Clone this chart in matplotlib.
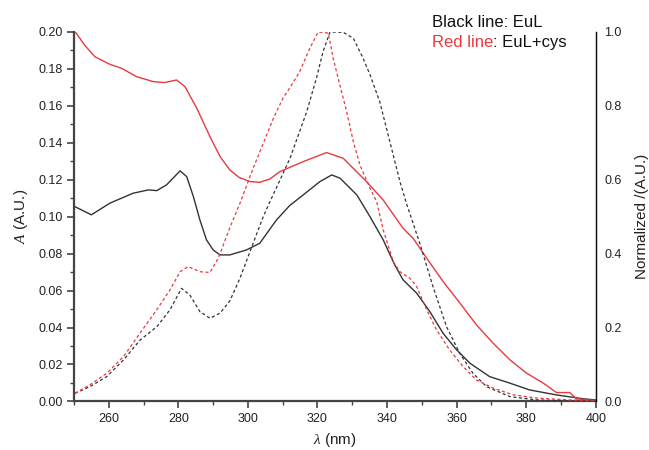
import numpy as np
import matplotlib
matplotlib.use("Agg")
import matplotlib.pyplot as plt
from matplotlib.ticker import MultipleLocator, FormatStrFormatter

plt.rcParams['font.family'] = ['Liberation Sans', 'DejaVu Sans']
plt.rcParams['mathtext.fontset'] = 'custom'
plt.rcParams['mathtext.it'] = 'Liberation Serif:italic'

# absorbance, EuL (black solid)
wl_eul = [250.3, 255, 260.3, 267, 271.4, 273.8, 276.6, 280.5, 282.4, 284.3, 286.2, 288.1, 290, 292,
          294.8, 299.6, 303.4, 308.2, 312, 315.9, 320.7, 324.1, 326.5, 331.3, 335.1, 338.9, 342.2,
          344.6, 348.5, 352.3, 356.1, 360, 363.8, 369.5, 375.3, 381, 388.7, 396.4, 400]
abs_eul = [0.1054, 0.101, 0.1073, 0.1127, 0.1145, 0.1141, 0.1172, 0.1248, 0.1217, 0.111, 0.0982,
           0.0874, 0.082, 0.0793, 0.0793, 0.082, 0.0856, 0.0982, 0.106, 0.1118, 0.119, 0.1226,
           0.1208, 0.1118, 0.1, 0.0874, 0.0739, 0.0658, 0.0586, 0.0486, 0.0369, 0.0279, 0.0207,
           0.0134, 0.0099, 0.0062, 0.0035, 0.0014, 0.0008]

# absorbance, EuL+cys (red solid)
wl_cys = [250.4, 253, 256, 260.3, 263.7, 268, 272.8, 276.1, 279.5, 281.9, 285.3, 289.1, 292, 294.8,
          297.5, 300.6, 303.4, 306.3, 309.2, 315.9, 322.6, 327.4, 334.1, 338.9, 344.6, 347.5,
          351.4, 356.1, 361, 365.7, 370.5, 375.3, 380.1, 384.9, 388.7, 392.5, 394.5, 400]
abs_cys = [0.200, 0.193, 0.1866, 0.1825, 0.1803, 0.1758, 0.1731, 0.1726, 0.174, 0.1704, 0.1587,
           0.1433, 0.1325, 0.1253, 0.1212, 0.119, 0.1186, 0.1204, 0.1244, 0.1298, 0.1347, 0.1316,
           0.119, 0.109, 0.0937, 0.0883, 0.0775, 0.0649, 0.0531, 0.0414, 0.0315, 0.0225, 0.0153,
           0.0099, 0.0048, 0.0048, 0.0014, 0.0005]

# normalized, EuL (black dashed)
wl_n_eul = [250.3, 254.6, 259.4, 264.2, 269, 273.8, 277.6, 280.9, 283.3, 286.2, 289.1, 292,
            294.8, 297.7, 301.5, 304.4, 306.3, 312.1, 316.9, 319.7, 321.6, 323.6, 327.4, 330.3,
            333.1, 335.1, 337.9, 340.8, 343.7, 345.6, 349.4, 353.2, 357.1, 360.9, 364.7, 368.6,
            375.3, 383, 400]
norm_eul = [0.022, 0.04, 0.067, 0.112, 0.166, 0.202, 0.248, 0.306, 0.288, 0.243, 0.225, 0.239,
            0.272, 0.333, 0.428, 0.5, 0.54, 0.658, 0.784, 0.875, 0.947, 1.0, 0.999, 0.983, 0.929,
            0.884, 0.811, 0.703, 0.595, 0.535, 0.428, 0.311, 0.202, 0.13, 0.076, 0.04, 0.013,
            0.004, 0.0]

# normalized, EuL+cys (red dashed)
wl_n_cys = [250.3, 254.6, 259.4, 264.2, 269, 273.8, 277.6, 280.5, 282.8, 286.2, 289.1, 291.5,
            294.8, 297.7, 301.5, 305.4, 307.3, 310.1, 312.6, 314.9, 317.8, 320.2, 323.1, 324.5,
            326.4, 328.4, 330.3, 332.2, 335.1, 337, 338.9, 341.8, 343.7, 346.6, 348.5, 351.4,
            354.2, 358, 361.9, 365.7, 370.5, 376.2, 383, 392.5, 400]
norm_cys = [0.022, 0.045, 0.076, 0.121, 0.185, 0.248, 0.302, 0.351, 0.365, 0.351, 0.349, 0.388,
            0.47, 0.536, 0.631, 0.721, 0.766, 0.821, 0.857, 0.893, 0.956, 1.0, 0.997, 0.929,
            0.857, 0.784, 0.703, 0.64, 0.577, 0.541, 0.464, 0.378, 0.351, 0.333, 0.311, 0.248,
            0.194, 0.139, 0.094, 0.058, 0.036, 0.018, 0.009, 0.004, 0.002]

red = '#E8393E'
black = '#333333'

fig = plt.figure(figsize=(6.49, 4.5), dpi=100)
ax = fig.add_axes([0.114, 0.108, 0.804, 0.821])
ax2 = ax.twinx()

ax.plot(wl_eul, abs_eul, color=black, lw=1.0)
ax.plot(wl_cys, abs_cys, color=red, lw=1.0)
ax2.plot(wl_n_eul, norm_eul, color=black, lw=0.9, ls=(0, (2.5, 2)))
ax2.plot(wl_n_cys, norm_cys, color=red, lw=0.9, ls=(0, (2.5, 2)))

ax.set_xlim(250, 400)
ax.set_ylim(0, 0.20)
ax2.set_ylim(0, 1.0)

ax.xaxis.set_major_locator(MultipleLocator(20))
ax.xaxis.set_minor_locator(MultipleLocator(10))
ax.yaxis.set_major_locator(MultipleLocator(0.02))
ax.yaxis.set_minor_locator(MultipleLocator(0.01))
ax.yaxis.set_major_formatter(FormatStrFormatter('%.2f'))
ax2.yaxis.set_major_locator(MultipleLocator(0.2))
ax2.yaxis.set_major_formatter(FormatStrFormatter('%.1f'))

ax.spines['top'].set_visible(False)
ax2.spines['top'].set_visible(False)
ax.spines['left'].set_linewidth(1.6)
ax.spines['left'].set_color('#444444')
ax.spines['bottom'].set_linewidth(1.6)
ax.spines['bottom'].set_color('#444444')
ax2.spines['right'].set_linewidth(1.0)
ax2.spines['right'].set_color('#111111')
ax2.spines['left'].set_visible(False)
ax2.spines['bottom'].set_visible(False)

ax.tick_params(axis='both', which='major', direction='out', length=5, width=1.2,
               color='#444444', labelsize=9, labelcolor='#222222', pad=3)
ax.tick_params(axis='both', which='minor', direction='out', length=3, width=1.0, color='#444444')
ax.tick_params(axis='y', right=False)
ax2.tick_params(axis='y', which='both', length=0, labelsize=9, labelcolor='#222222', pad=6)

ax.set_xlabel(r'$\mathit{\lambda}$ (nm)', fontsize=11, color='#222222', labelpad=5)
ax.set_ylabel(r'$\mathit{A}$ (A.U.)', fontsize=11, color='#222222', labelpad=6)
ax2.set_ylabel('Normalized /(A.U.)', fontsize=11, color='#222222', labelpad=10)

fig.text(0.665, 0.94, 'Black line: EuL', fontsize=12, color='#111111', va='baseline')
t = fig.text(0.665, 0.895, 'Red line', fontsize=12, color=red, va='baseline')
ax.annotate(': EuL+cys', xy=(1, 0), xycoords=t, va='bottom', ha='left',
            fontsize=12, color='#111111', annotation_clip=False)

fig.savefig('out.png', dpi=100)
